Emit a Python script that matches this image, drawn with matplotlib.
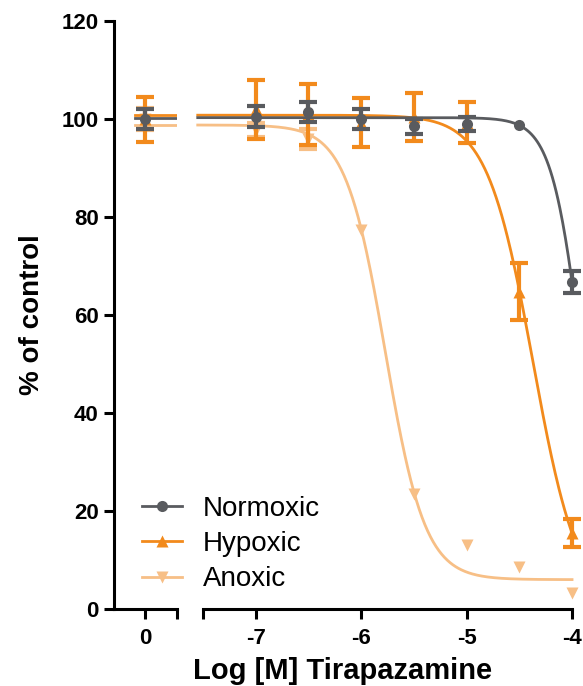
import numpy as np
import matplotlib
matplotlib.use("Agg")
import matplotlib.pyplot as plt

plt.rcParams["font.family"] = ["Liberation Sans", "DejaVu Sans"]
plt.rcParams["axes.unicode_minus"] = False

# ---------------------------------------------------------------- data
series = ["Normoxic", "Hypoxic", "Anoxic"]
x_zero = [0.0]
x_log = [-7.0, -6.5, -6.0, -5.5, -5.0, -4.5, -4.0]

normoxic = [100.0, 100.5, 101.5, 100.0, 98.5, 99.0, 98.8, 66.7]
normoxic_err = [2.0, 2.2, 2.0, 2.0, 1.5, 1.5, 0.0, 2.2]
hypoxic = [100.0, 102.0, 101.0, 99.3, 100.4, 99.3, 64.8, 15.5]
hypoxic_err = [4.6, 6.0, 6.2, 5.0, 4.9, 4.2, 5.8, 2.8]
anoxic = [100.0, 97.8, 96.0, 77.3, 23.5, 13.1, 8.6, 3.3]
anoxic_err = [2.3, 1.5, 2.0, 0.0, 0.0, 0.0, 0.0, 0.0]

# four-parameter logistic fits (top, bottom, logIC50, hill)
fits = {"Normoxic": (100.3, 0.0, -3.9, 3.0),
        "Hypoxic": (100.8, 0.0, -4.37, 2.0),
        "Anoxic": (98.8, 6.0, -5.77, 2.3)}

COL = {"Normoxic": "#595b5f", "Hypoxic": "#f28a1c", "Anoxic": "#f7bf86"}
MRK = {"Normoxic": "o", "Hypoxic": "^", "Anoxic": "v"}
Z = {"Normoxic": 5, "Hypoxic": 4, "Anoxic": 3}
VALS = {"Normoxic": (normoxic, normoxic_err), "Hypoxic": (hypoxic, hypoxic_err),
        "Anoxic": (anoxic, anoxic_err)}

def logistic(x, top, bottom, c, h):
    return bottom + (top - bottom) / (1 + 10 ** (h * (x - c)))

# ---------------------------------------------------------------- figure
fig = plt.figure(figsize=(5.83, 6.86), dpi=100)
bot, hgt = 0.1122, 0.857
axL = fig.add_axes([0.1955, bot, 0.108, hgt])
axR = fig.add_axes([0.3482, bot, 0.633, hgt])

for s in series:
    v, e = VALS[s]
    top, bottom, c, h = fits[s]
    # left segment (control, x = 0)
    xl = np.linspace(-0.1, 0.3, 10)
    axL.plot(xl, logistic(xl - 10, top, bottom, c, h), color=COL[s], lw=2, zorder=Z[s])
    axL.errorbar(x_zero, v[:1], yerr=e[:1], fmt=MRK[s], color=COL[s], ms=8, mec="none",
                 elinewidth=3, capsize=6.5, capthick=3, zorder=Z[s], clip_on=False)
    # right segment
    xr = np.linspace(-7.55, -4.0, 400)
    axR.plot(xr, logistic(xr, top, bottom, c, h), color=COL[s], lw=2, zorder=Z[s], clip_on=False)
    ee = [x if x > 0 else np.nan for x in e[1:]]
    axR.errorbar(x_log, v[1:], yerr=ee, fmt=MRK[s], color=COL[s], ms=8, mec="none",
                 elinewidth=3, capsize=6.5, capthick=3, zorder=Z[s], clip_on=False)

for ax in (axL, axR):
    ax.set_ylim(0, 120)
    ax.spines["top"].set_visible(False)
    ax.spines["right"].set_visible(False)
    for sp in ax.spines.values():
        sp.set_linewidth(2.2)
    ax.tick_params(width=2.2, length=7, labelsize=16, pad=4)
    ax.tick_params(axis="x", pad=7)

axL.set_xlim(-0.3, 0.3)
axL.set_xticks([0])
axL.set_xticks([0.3], minor=True)
axL.set_yticks([0, 20, 40, 60, 80, 100, 120])
axL.tick_params(axis="x", which="minor", width=2.2, length=7)
axR.set_xlim(-7.5, -4)
axR.set_xticks([-7, -6, -5, -4])
axR.set_xticks([-7.5], minor=True)
axR.tick_params(axis="x", which="minor", width=2.2, length=7)
axR.spines["left"].set_visible(False)
axR.set_yticks([])
for ax in (axL, axR):
    for lab in ax.get_xticklabels() + ax.get_yticklabels():
        lab.set_fontweight("bold")

fig.text(0.055, bot + hgt / 2, "% of control", rotation=90, ha="center", va="center",
         fontsize=20, fontweight="bold")
fig.text(0.588, 0.022, "Log [M] Tirapazamine", ha="center", va="center",
         fontsize=21, fontweight="bold")

handles = [plt.Line2D([], [], color=COL[s], marker=MRK[s], ms=8, mec="none", lw=2) for s in series]
fig.legend(handles, series, loc="upper left", bbox_to_anchor=(0.2436, 0.277), frameon=False,
           fontsize=20, handlelength=1.45, handletextpad=0.75, labelspacing=0.33,
           borderpad=0, borderaxespad=0)

fig.savefig("out.png", dpi=100)
